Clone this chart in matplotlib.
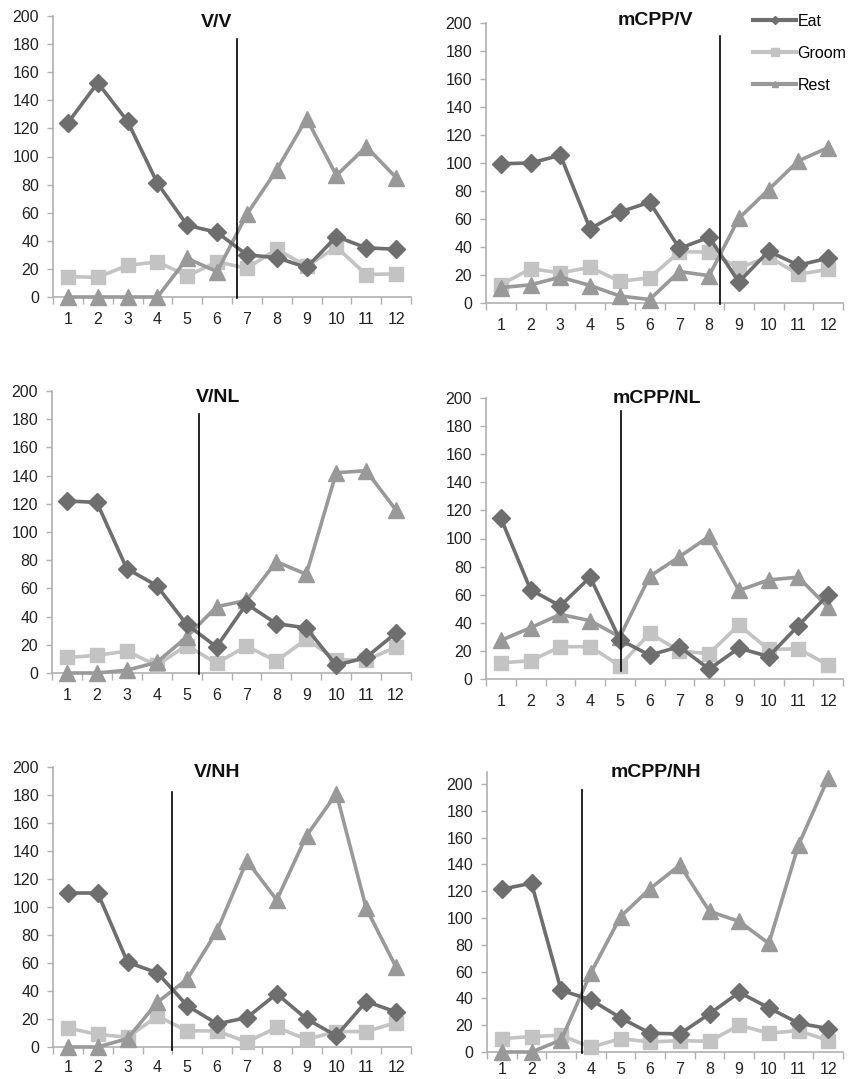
import matplotlib
matplotlib.use("Agg")
import matplotlib.pyplot as plt
from matplotlib.lines import Line2D

plt.rcParams['font.family'] = ['Liberation Sans', 'DejaVu Sans']

categories = list(range(1, 13))
titles = ["V/V", "mCPP/V", "V/NL", "mCPP/NL", "V/NH", "mCPP/NH"]

eat = [
    [124, 152.5, 125, 81, 51, 46, 30, 28, 21, 43, 35, 34],
    [99.5, 100, 105.5, 53, 65, 72, 39, 47, 15, 37, 27, 32],
    [122, 121, 74, 62, 34.5, 18.5, 49, 35, 32, 5.5, 11, 28.5],
    [114.5, 63.5, 52, 72.5, 28, 17, 23, 7, 22, 16, 38, 60],
    [110, 110, 60.5, 53, 29.5, 16.5, 21, 38, 20, 8, 32.5, 25],
    [121.5, 126, 46, 39, 25.5, 14, 13.5, 28.5, 44.5, 33, 21.5, 17.5],
]
groom = [
    [14.5, 14, 22.5, 25, 15, 25, 20.5, 34, 22, 35.5, 16, 16.5],
    [13, 24.5, 21.5, 25.5, 15.5, 18, 36.5, 36.5, 25, 33, 20.5, 24],
    [11, 12.5, 15.5, 5.5, 19.5, 7, 19, 8.5, 24, 9.5, 9, 18.5],
    [11.5, 13, 23, 23, 9.5, 32.5, 20, 18, 38.5, 21, 21.5, 10],
    [13.5, 9, 7, 22, 11.5, 11.5, 3.5, 14, 5.5, 11, 11, 17.5],
    [10, 11.5, 12.5, 3.5, 10, 7.5, 8.5, 8, 20, 14, 16, 8.5],
]
rest = [
    [0, 0, 0, 0, 27.5, 18, 59, 90.5, 127, 86.5, 107, 85],
    [11, 13, 18.5, 12.5, 5, 2.5, 22.5, 19.5, 60.5, 81, 101.5, 111],
    [0, 0, 2, 7.5, 25.5, 47, 51.5, 79, 70, 142, 143.5, 115.5],
    [27.5, 36.5, 46, 41.5, 30, 73, 87, 101.5, 63, 70.5, 72.5, 51],
    [0, 0, 6, 32, 48.5, 83, 133, 105, 151, 181, 99, 57],
    [0, 0, 9, 59, 101, 122, 139.5, 105, 97.5, 81, 154.5, 204.5],
]
divider_x = [6.67, 8.37, 5.4, 5.05, 4.49, 3.69]
divider_y0 = [-1, -1, -1, 6, -2, -1]
divider_y1 = [183.5, 190.5, 183.5, 190.5, 182, 195.5]
ymax = [200, 200, 200, 200, 200, 209]

# axes boxes in pixels: left, right, top, bottom
boxes = [
    (53, 411, 16, 297),
    (486, 843, 23, 303),
    (52, 411, 391, 673),
    (486, 843, 398, 679),
    (53, 411, 767, 1047),
    (487, 843, 772, 1052),
]
xlabel_pad = [10.5, 10.5, 10.5, 10.5, 9, 7.5]
# title centre x and cap-top y in pixels
title_pos = [(217, 17), (655, 15), (218, 392), (657, 393), (217, 767), (656, 767)]

W, H = 850, 1079
fig = plt.figure(figsize=(W / 100, H / 100), dpi=100)

c_eat = "#6e6e6e"
c_groom = "#c3c3c3"
c_rest = "#999999"
spine_c = "#b0b0b0"

for i in range(6):
    l, r, t, b = boxes[i]
    ax = fig.add_axes([l / W, 1 - b / H, (r - l) / W, (b - t) / H])
    ax.plot(categories, groom[i], color=c_groom, lw=2.6, marker='s', ms=9.5,
            zorder=3, clip_on=False)
    ax.plot(categories, rest[i], color=c_rest, lw=2.6, marker='^', ms=11,
            zorder=4, clip_on=False)
    ax.plot(categories, eat[i], color=c_eat, lw=2.6, marker='D', ms=9,
            zorder=5, clip_on=False)
    ax.plot([divider_x[i], divider_x[i]], [divider_y0[i], divider_y1[i]],
            color="black", lw=1.2, zorder=6, clip_on=False)
    ax.set_xlim(0.5, 12.5)
    ax.set_ylim(0, ymax[i])
    ax.set_yticks(range(0, 201, 20))
    ax.set_xticks([k + 0.5 for k in range(0, 13)])
    ax.set_xticklabels([])
    ax.set_xticks(categories, minor=True)
    ax.set_xticklabels([str(c) for c in categories], minor=True)
    ax.tick_params(axis='x', which='major', length=5, width=1, color=spine_c,
                   direction='out')
    ax.tick_params(axis='x', which='minor', length=0, labelsize=11.5,
                   labelcolor="#222222", pad=xlabel_pad[i])
    ax.tick_params(axis='y', length=4, width=1, color=spine_c, direction='out',
                   labelsize=11.5, labelcolor="#222222", pad=6)
    for s in ['top', 'right']:
        ax.spines[s].set_visible(False)
    for s in ['left', 'bottom']:
        ax.spines[s].set_color(spine_c)
        ax.spines[s].set_linewidth(1.2)
    ax.patch.set_alpha(0)
    tx, ty = title_pos[i]
    fig.text(tx / W, 1 - (ty - 3) / H, titles[i], ha='center', va='top',
             fontsize=14, fontweight='bold', color="#111111")
    if i == 1:
        handles = [
            Line2D([], [], color=c_eat, lw=3, marker='D', ms=4),
            Line2D([], [], color=c_groom, lw=3, marker='s', ms=6),
            Line2D([], [], color=c_rest, lw=3, marker='^', ms=5),
        ]
        fig.legend(handles, ["Eat", "Groom", "Rest"], loc='upper left',
                   bbox_to_anchor=(745 / W, 1 - 6 / H), frameon=False,
                   fontsize=11.5, handlelength=2.7, handletextpad=0.1,
                   labelspacing=1.05, borderpad=0)

fig.savefig("out.png", dpi=100)
